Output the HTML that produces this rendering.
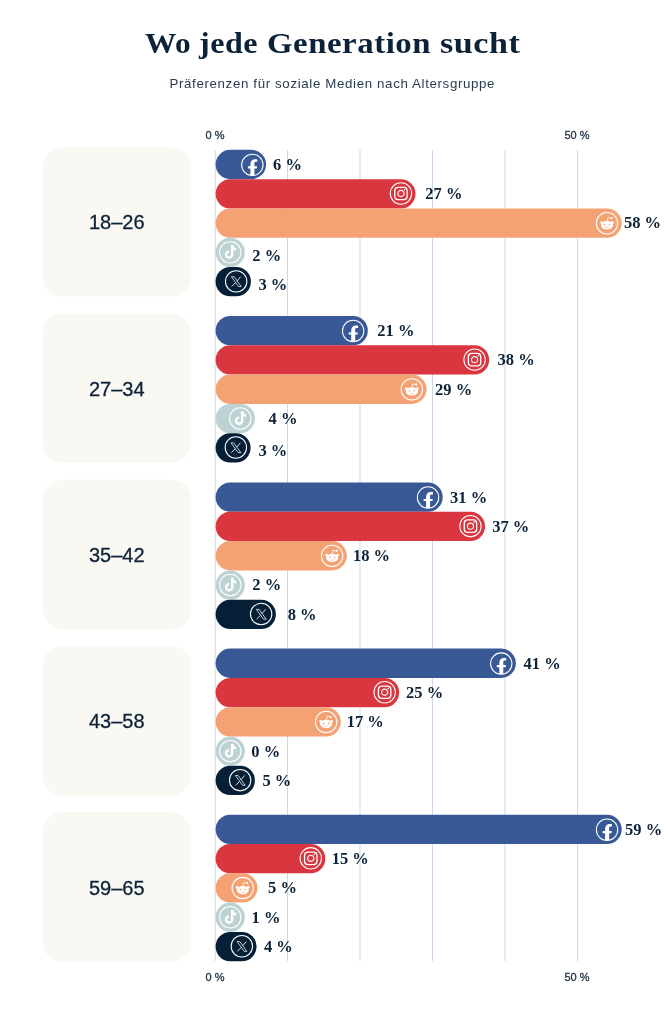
<!DOCTYPE html><html lang="de"><head><meta charset="utf-8"><title>Wo jede Generation sucht</title><style>
*{margin:0;padding:0;box-sizing:border-box}
html,body{width:664px;height:1024px;background:#fff;overflow:hidden}
body{position:relative;font-family:"Liberation Sans",sans-serif;color:#0c2238}
.title{position:absolute;left:0;top:22.5px;width:664px;height:40px;font-family:"Liberation Serif",serif;font-weight:700;font-size:30px;line-height:40px;color:#0c2238;white-space:nowrap;letter-spacing:0.5px}
.title span{position:absolute;top:0;transform-origin:0 0;display:block}
.sub{position:absolute;left:0;width:664px;text-align:center;top:74.5px;font-size:13.3px;line-height:18px;color:#2b3b50;white-space:nowrap;letter-spacing:0.64px;text-indent:0.64px}
.ax{position:absolute;width:60px;margin-left:-30px;text-align:center;font-size:11px;line-height:12px;font-weight:400;color:#22344a;-webkit-text-stroke:0.3px #22344a;white-space:nowrap}
.chart{position:absolute;left:0;top:0;width:664px;height:1024px}
.age{position:absolute;left:42.6px;width:148.4px;height:149.5px;display:flex;align-items:center;justify-content:center;font-size:20px;color:#0c2238;-webkit-text-stroke:0.3px #0c2238}
.lab{font-family:"Liberation Serif",serif;font-weight:700;font-size:16.5px;fill:#0c2238;white-space:pre}
</style></head><body>
<div class="title"><span style="left:144.50px;transform:scaleX(1.0424)">Wo</span> <span style="left:198.70px;transform:scaleX(1.0679)">jede</span> <span style="left:266.91px;transform:scaleX(1.0942)">Generation</span> <span style="left:439.66px;transform:scaleX(1.1362)">sucht</span></div>
<div class="sub">Präferenzen für soziale Medien nach Altersgruppe</div>
<div class="ax" style="left:215px;top:129px">0 %</div>
<div class="ax" style="left:577px;top:129px">50 %</div>
<div class="ax" style="left:215px;top:970.5px">0 %</div>
<div class="ax" style="left:577px;top:970.5px">50 %</div>
<svg class="chart" viewBox="0 0 664 1024">
<rect x="42.6" y="147.10" width="148.4" height="149.5" rx="20" fill="#f9f8f3"/>
<rect x="42.6" y="313.40" width="148.4" height="149.5" rx="20" fill="#f9f8f3"/>
<rect x="42.6" y="479.70" width="148.4" height="149.5" rx="20" fill="#f9f8f3"/>
<rect x="42.6" y="646.00" width="148.4" height="149.5" rx="20" fill="#f9f8f3"/>
<rect x="42.6" y="812.30" width="148.4" height="149.5" rx="20" fill="#f9f8f3"/>
<line x1="215.2" x2="215.2" y1="149.8" y2="961" stroke="#d0d8df" stroke-width="1"/>
<line x1="287.5" x2="287.5" y1="149.8" y2="961" stroke="#cdd7e7" stroke-width="1"/>
<line x1="360.0" x2="360.0" y1="149.8" y2="961" stroke="#cdd7e7" stroke-width="1"/>
<line x1="432.5" x2="432.5" y1="149.8" y2="961" stroke="#cdd7e7" stroke-width="1"/>
<line x1="505.0" x2="505.0" y1="149.8" y2="961" stroke="#cdd7e7" stroke-width="1"/>
<line x1="577.5" x2="577.5" y1="149.8" y2="961" stroke="#cdd7e7" stroke-width="1"/>
<rect x="215.6" y="149.85" width="50.50" height="29.3" rx="14.65" fill="#385996"/>
<g transform="translate(252.35 164.85)"><circle r="10.7" fill="none" stroke="#fff" stroke-width="1.05"/><path transform="translate(0.15 0)" d="M-2.1 10.6 V3.6 H-4.6 V1.4 H-2.1 V-0.6 C-2.1 -3.6 -0.4 -5.6 2.4 -5.6 C3.4 -5.6 4.3 -5.5 4.8 -5.4 V-3.1 H3.4 C2.2 -3.1 1.9 -2.4 1.9 -1.5 V1.4 H4.6 L4.2 3.6 H1.9 V10.6 Z" fill="#fff"/></g>
<text class="lab" x="273.10" y="169.85">6 %</text>
<rect x="215.6" y="179.15" width="199.90" height="29.3" rx="14.65" fill="#d9363f"/>
<g transform="translate(400.95 193.50)"><circle r="10.7" fill="none" stroke="#fff" stroke-width="1.05"/><rect x="-6.2" y="-6.2" width="12.4" height="12.4" rx="3.4" fill="none" stroke="#fff" stroke-width="1.3"/>
<circle r="3.1" fill="none" stroke="#fff" stroke-width="1.2"/>
<circle cx="3.6" cy="-3.8" r="0.8" fill="#fff"/></g>
<text class="lab" x="425.30" y="199.15">27 %</text>
<rect x="215.6" y="208.45" width="406.05" height="29.3" rx="14.65" fill="#f4a274"/>
<g transform="translate(607.00 223.25)"><circle r="10.7" fill="none" stroke="#fff" stroke-width="1.05"/><ellipse cx="0" cy="2" rx="6" ry="4.2" fill="#fff"/>
<circle cx="-5.5" cy="-0.7" r="1.35" fill="#fff"/>
<circle cx="5.5" cy="-0.7" r="1.35" fill="#fff"/>
<path d="M0.2 -2 L1 -5.6 L4.2 -4.9" fill="none" stroke="#fff" stroke-width="0.8"/>
<circle cx="4.5" cy="-5" r="1.1" fill="#fff"/>
<circle cx="-2.4" cy="1.4" r="0.8" fill="#f4a274"/>
<circle cx="2.4" cy="1.4" r="0.8" fill="#f4a274"/>
<path d="M-2.3 4.1 Q0 4.5 2.3 4.1" fill="none" stroke="#f4a274" stroke-width="0.5"/></g>
<text class="lab" x="623.90" y="228.45">58 %</text>
<rect x="215.6" y="237.75" width="29.30" height="29.3" rx="14.65" fill="#bdd2d3"/>
<g transform="translate(230.25 252.40)"><circle r="10.7" fill="none" stroke="#fff" stroke-width="1.05"/><path d="M1.9 -7.2 V2.15 A3.05 3.05 0 1 1 -1.15 -0.9" fill="none" stroke="#fff" stroke-width="2.4"/>
<path d="M1.9 -7.2 C2.2 -4.6 3.8 -3 6 -2.8" fill="none" stroke="#fff" stroke-width="2.4"/></g>
<text class="lab" x="252.30" y="261.20">2 %</text>
<rect x="215.6" y="267.05" width="35.30" height="29.3" rx="14.65" fill="#041f36"/>
<g transform="translate(236.15 281.40)"><circle r="10.7" fill="none" stroke="#fff" stroke-width="1.05"/><g transform="translate(0.1 0.2)"><path d="M-4.9 -4.9 H-2.2 L4.9 4.9 H2.2 Z" fill="none" stroke="#e3e8ec" stroke-width="0.85"/>
<path d="M4.4 -4.9 L0.6 -0.5 M-0.7 1 L-4.6 4.9" fill="none" stroke="#e3e8ec" stroke-width="0.95"/></g></g>
<text class="lab" x="258.40" y="289.80">3 %</text>
<rect x="215.6" y="316.00" width="152.20" height="29.3" rx="14.65" fill="#385996"/>
<g transform="translate(353.15 331.00)"><circle r="10.7" fill="none" stroke="#fff" stroke-width="1.05"/><path transform="translate(0.15 0)" d="M-2.1 10.6 V3.6 H-4.6 V1.4 H-2.1 V-0.6 C-2.1 -3.6 -0.4 -5.6 2.4 -5.6 C3.4 -5.6 4.3 -5.5 4.8 -5.4 V-3.1 H3.4 C2.2 -3.1 1.9 -2.4 1.9 -1.5 V1.4 H4.6 L4.2 3.6 H1.9 V10.6 Z" fill="#fff"/></g>
<text class="lab" x="377.30" y="336.00">21 %</text>
<rect x="215.6" y="345.30" width="273.50" height="29.3" rx="14.65" fill="#d9363f"/>
<g transform="translate(474.55 359.65)"><circle r="10.7" fill="none" stroke="#fff" stroke-width="1.05"/><rect x="-6.2" y="-6.2" width="12.4" height="12.4" rx="3.4" fill="none" stroke="#fff" stroke-width="1.3"/>
<circle r="3.1" fill="none" stroke="#fff" stroke-width="1.2"/>
<circle cx="3.6" cy="-3.8" r="0.8" fill="#fff"/></g>
<text class="lab" x="497.60" y="365.30">38 %</text>
<rect x="215.6" y="374.60" width="210.90" height="29.3" rx="14.65" fill="#f4a274"/>
<g transform="translate(411.85 389.40)"><circle r="10.7" fill="none" stroke="#fff" stroke-width="1.05"/><ellipse cx="0" cy="2" rx="6" ry="4.2" fill="#fff"/>
<circle cx="-5.5" cy="-0.7" r="1.35" fill="#fff"/>
<circle cx="5.5" cy="-0.7" r="1.35" fill="#fff"/>
<path d="M0.2 -2 L1 -5.6 L4.2 -4.9" fill="none" stroke="#fff" stroke-width="0.8"/>
<circle cx="4.5" cy="-5" r="1.1" fill="#fff"/>
<circle cx="-2.4" cy="1.4" r="0.8" fill="#f4a274"/>
<circle cx="2.4" cy="1.4" r="0.8" fill="#f4a274"/>
<path d="M-2.3 4.1 Q0 4.5 2.3 4.1" fill="none" stroke="#f4a274" stroke-width="0.5"/></g>
<text class="lab" x="435.10" y="394.60">29 %</text>
<rect x="215.6" y="403.90" width="39.30" height="29.3" rx="14.65" fill="#bdd2d3"/>
<g transform="translate(240.25 418.55)"><circle r="10.7" fill="none" stroke="#fff" stroke-width="1.05"/><path d="M1.9 -7.2 V2.15 A3.05 3.05 0 1 1 -1.15 -0.9" fill="none" stroke="#fff" stroke-width="2.4"/>
<path d="M1.9 -7.2 C2.2 -4.6 3.8 -3 6 -2.8" fill="none" stroke="#fff" stroke-width="2.4"/></g>
<text class="lab" x="268.60" y="423.90">4 %</text>
<rect x="215.6" y="433.20" width="35.00" height="29.3" rx="14.65" fill="#041f36"/>
<g transform="translate(235.85 447.55)"><circle r="10.7" fill="none" stroke="#fff" stroke-width="1.05"/><g transform="translate(0.1 0.2)"><path d="M-4.9 -4.9 H-2.2 L4.9 4.9 H2.2 Z" fill="none" stroke="#e3e8ec" stroke-width="0.85"/>
<path d="M4.4 -4.9 L0.6 -0.5 M-0.7 1 L-4.6 4.9" fill="none" stroke="#e3e8ec" stroke-width="0.95"/></g></g>
<text class="lab" x="258.40" y="456.30">3 %</text>
<rect x="215.6" y="482.50" width="227.10" height="29.3" rx="14.65" fill="#385996"/>
<g transform="translate(428.05 497.50)"><circle r="10.7" fill="none" stroke="#fff" stroke-width="1.05"/><path transform="translate(0.15 0)" d="M-2.1 10.6 V3.6 H-4.6 V1.4 H-2.1 V-0.6 C-2.1 -3.6 -0.4 -5.6 2.4 -5.6 C3.4 -5.6 4.3 -5.5 4.8 -5.4 V-3.1 H3.4 C2.2 -3.1 1.9 -2.4 1.9 -1.5 V1.4 H4.6 L4.2 3.6 H1.9 V10.6 Z" fill="#fff"/></g>
<text class="lab" x="450.10" y="502.50">31 %</text>
<rect x="215.6" y="511.80" width="269.40" height="29.3" rx="14.65" fill="#d9363f"/>
<g transform="translate(470.45 526.15)"><circle r="10.7" fill="none" stroke="#fff" stroke-width="1.05"/><rect x="-6.2" y="-6.2" width="12.4" height="12.4" rx="3.4" fill="none" stroke="#fff" stroke-width="1.3"/>
<circle r="3.1" fill="none" stroke="#fff" stroke-width="1.2"/>
<circle cx="3.6" cy="-3.8" r="0.8" fill="#fff"/></g>
<text class="lab" x="492.20" y="531.80">37 %</text>
<rect x="215.6" y="541.10" width="131.20" height="29.3" rx="14.65" fill="#f4a274"/>
<g transform="translate(332.15 555.90)"><circle r="10.7" fill="none" stroke="#fff" stroke-width="1.05"/><ellipse cx="0" cy="2" rx="6" ry="4.2" fill="#fff"/>
<circle cx="-5.5" cy="-0.7" r="1.35" fill="#fff"/>
<circle cx="5.5" cy="-0.7" r="1.35" fill="#fff"/>
<path d="M0.2 -2 L1 -5.6 L4.2 -4.9" fill="none" stroke="#fff" stroke-width="0.8"/>
<circle cx="4.5" cy="-5" r="1.1" fill="#fff"/>
<circle cx="-2.4" cy="1.4" r="0.8" fill="#f4a274"/>
<circle cx="2.4" cy="1.4" r="0.8" fill="#f4a274"/>
<path d="M-2.3 4.1 Q0 4.5 2.3 4.1" fill="none" stroke="#f4a274" stroke-width="0.5"/></g>
<text class="lab" x="352.90" y="561.10">18 %</text>
<rect x="215.6" y="570.40" width="29.30" height="29.3" rx="14.65" fill="#bdd2d3"/>
<g transform="translate(230.25 585.05)"><circle r="10.7" fill="none" stroke="#fff" stroke-width="1.05"/><path d="M1.9 -7.2 V2.15 A3.05 3.05 0 1 1 -1.15 -0.9" fill="none" stroke="#fff" stroke-width="2.4"/>
<path d="M1.9 -7.2 C2.2 -4.6 3.8 -3 6 -2.8" fill="none" stroke="#fff" stroke-width="2.4"/></g>
<text class="lab" x="252.30" y="590.40">2 %</text>
<rect x="215.6" y="599.70" width="60.30" height="29.3" rx="14.65" fill="#041f36"/>
<g transform="translate(261.15 614.05)"><circle r="10.7" fill="none" stroke="#fff" stroke-width="1.05"/><g transform="translate(0.1 0.2)"><path d="M-4.9 -4.9 H-2.2 L4.9 4.9 H2.2 Z" fill="none" stroke="#e3e8ec" stroke-width="0.85"/>
<path d="M4.4 -4.9 L0.6 -0.5 M-0.7 1 L-4.6 4.9" fill="none" stroke="#e3e8ec" stroke-width="0.95"/></g></g>
<text class="lab" x="287.70" y="619.70">8 %</text>
<rect x="215.6" y="648.60" width="300.30" height="29.3" rx="14.65" fill="#385996"/>
<g transform="translate(501.25 663.60)"><circle r="10.7" fill="none" stroke="#fff" stroke-width="1.05"/><path transform="translate(0.15 0)" d="M-2.1 10.6 V3.6 H-4.6 V1.4 H-2.1 V-0.6 C-2.1 -3.6 -0.4 -5.6 2.4 -5.6 C3.4 -5.6 4.3 -5.5 4.8 -5.4 V-3.1 H3.4 C2.2 -3.1 1.9 -2.4 1.9 -1.5 V1.4 H4.6 L4.2 3.6 H1.9 V10.6 Z" fill="#fff"/></g>
<text class="lab" x="523.60" y="668.60">41 %</text>
<rect x="215.6" y="677.90" width="183.60" height="29.3" rx="14.65" fill="#d9363f"/>
<g transform="translate(384.65 692.25)"><circle r="10.7" fill="none" stroke="#fff" stroke-width="1.05"/><rect x="-6.2" y="-6.2" width="12.4" height="12.4" rx="3.4" fill="none" stroke="#fff" stroke-width="1.3"/>
<circle r="3.1" fill="none" stroke="#fff" stroke-width="1.2"/>
<circle cx="3.6" cy="-3.8" r="0.8" fill="#fff"/></g>
<text class="lab" x="406.10" y="697.90">25 %</text>
<rect x="215.6" y="707.20" width="125.20" height="29.3" rx="14.65" fill="#f4a274"/>
<g transform="translate(326.15 722.00)"><circle r="10.7" fill="none" stroke="#fff" stroke-width="1.05"/><ellipse cx="0" cy="2" rx="6" ry="4.2" fill="#fff"/>
<circle cx="-5.5" cy="-0.7" r="1.35" fill="#fff"/>
<circle cx="5.5" cy="-0.7" r="1.35" fill="#fff"/>
<path d="M0.2 -2 L1 -5.6 L4.2 -4.9" fill="none" stroke="#fff" stroke-width="0.8"/>
<circle cx="4.5" cy="-5" r="1.1" fill="#fff"/>
<circle cx="-2.4" cy="1.4" r="0.8" fill="#f4a274"/>
<circle cx="2.4" cy="1.4" r="0.8" fill="#f4a274"/>
<path d="M-2.3 4.1 Q0 4.5 2.3 4.1" fill="none" stroke="#f4a274" stroke-width="0.5"/></g>
<text class="lab" x="346.70" y="727.20">17 %</text>
<rect x="215.6" y="736.50" width="29.30" height="29.3" rx="14.65" fill="#bdd2d3"/>
<g transform="translate(230.25 751.15)"><circle r="10.7" fill="none" stroke="#fff" stroke-width="1.05"/><path d="M1.9 -7.2 V2.15 A3.05 3.05 0 1 1 -1.15 -0.9" fill="none" stroke="#fff" stroke-width="2.4"/>
<path d="M1.9 -7.2 C2.2 -4.6 3.8 -3 6 -2.8" fill="none" stroke="#fff" stroke-width="2.4"/></g>
<text class="lab" x="251.30" y="756.50">0 %</text>
<rect x="215.6" y="765.80" width="39.30" height="29.3" rx="14.65" fill="#041f36"/>
<g transform="translate(240.15 780.15)"><circle r="10.7" fill="none" stroke="#fff" stroke-width="1.05"/><g transform="translate(0.1 0.2)"><path d="M-4.9 -4.9 H-2.2 L4.9 4.9 H2.2 Z" fill="none" stroke="#e3e8ec" stroke-width="0.85"/>
<path d="M4.4 -4.9 L0.6 -0.5 M-0.7 1 L-4.6 4.9" fill="none" stroke="#e3e8ec" stroke-width="0.95"/></g></g>
<text class="lab" x="262.40" y="785.80">5 %</text>
<rect x="215.6" y="814.70" width="406.10" height="29.3" rx="14.65" fill="#385996"/>
<g transform="translate(607.05 829.70)"><circle r="10.7" fill="none" stroke="#fff" stroke-width="1.05"/><path transform="translate(0.15 0)" d="M-2.1 10.6 V3.6 H-4.6 V1.4 H-2.1 V-0.6 C-2.1 -3.6 -0.4 -5.6 2.4 -5.6 C3.4 -5.6 4.3 -5.5 4.8 -5.4 V-3.1 H3.4 C2.2 -3.1 1.9 -2.4 1.9 -1.5 V1.4 H4.6 L4.2 3.6 H1.9 V10.6 Z" fill="#fff"/></g>
<text class="lab" x="625.10" y="834.70">59 %</text>
<rect x="215.6" y="844.00" width="109.70" height="29.3" rx="14.65" fill="#d9363f"/>
<g transform="translate(310.75 858.35)"><circle r="10.7" fill="none" stroke="#fff" stroke-width="1.05"/><rect x="-6.2" y="-6.2" width="12.4" height="12.4" rx="3.4" fill="none" stroke="#fff" stroke-width="1.3"/>
<circle r="3.1" fill="none" stroke="#fff" stroke-width="1.2"/>
<circle cx="3.6" cy="-3.8" r="0.8" fill="#fff"/></g>
<text class="lab" x="331.70" y="864.00">15 %</text>
<rect x="215.6" y="873.30" width="41.80" height="29.3" rx="14.65" fill="#f4a274"/>
<g transform="translate(242.75 888.10)"><circle r="10.7" fill="none" stroke="#fff" stroke-width="1.05"/><ellipse cx="0" cy="2" rx="6" ry="4.2" fill="#fff"/>
<circle cx="-5.5" cy="-0.7" r="1.35" fill="#fff"/>
<circle cx="5.5" cy="-0.7" r="1.35" fill="#fff"/>
<path d="M0.2 -2 L1 -5.6 L4.2 -4.9" fill="none" stroke="#fff" stroke-width="0.8"/>
<circle cx="4.5" cy="-5" r="1.1" fill="#fff"/>
<circle cx="-2.4" cy="1.4" r="0.8" fill="#f4a274"/>
<circle cx="2.4" cy="1.4" r="0.8" fill="#f4a274"/>
<path d="M-2.3 4.1 Q0 4.5 2.3 4.1" fill="none" stroke="#f4a274" stroke-width="0.5"/></g>
<text class="lab" x="268.10" y="893.30">5 %</text>
<rect x="215.6" y="902.60" width="29.30" height="29.3" rx="14.65" fill="#bdd2d3"/>
<g transform="translate(230.25 917.25)"><circle r="10.7" fill="none" stroke="#fff" stroke-width="1.05"/><path d="M1.9 -7.2 V2.15 A3.05 3.05 0 1 1 -1.15 -0.9" fill="none" stroke="#fff" stroke-width="2.4"/>
<path d="M1.9 -7.2 C2.2 -4.6 3.8 -3 6 -2.8" fill="none" stroke="#fff" stroke-width="2.4"/></g>
<text class="lab" x="251.50" y="922.60">1 %</text>
<rect x="215.6" y="931.90" width="41.00" height="29.3" rx="14.65" fill="#041f36"/>
<g transform="translate(241.85 946.25)"><circle r="10.7" fill="none" stroke="#fff" stroke-width="1.05"/><g transform="translate(0.1 0.2)"><path d="M-4.9 -4.9 H-2.2 L4.9 4.9 H2.2 Z" fill="none" stroke="#e3e8ec" stroke-width="0.85"/>
<path d="M4.4 -4.9 L0.6 -0.5 M-0.7 1 L-4.6 4.9" fill="none" stroke="#e3e8ec" stroke-width="0.95"/></g></g>
<text class="lab" x="263.90" y="951.90">4 %</text>
</svg>
<div class="age" style="top:148.10px">18–26</div>
<div class="age" style="top:314.40px">27–34</div>
<div class="age" style="top:480.70px">35–42</div>
<div class="age" style="top:647.00px">43–58</div>
<div class="age" style="top:813.30px">59–65</div>
</body></html>
